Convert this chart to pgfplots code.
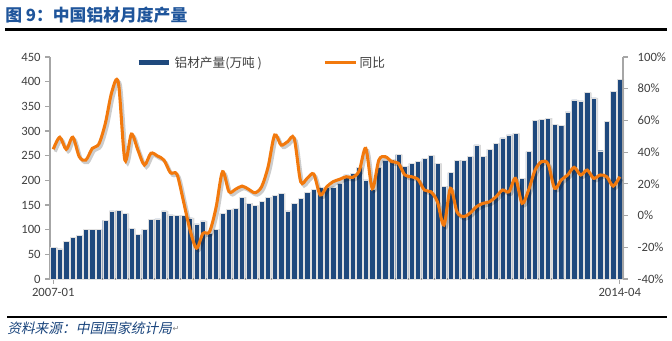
\documentclass[border=0pt]{standalone}
\usepackage{pgfplots}
\usepackage{pgfplotstable}
\pgfplotsset{compat=1.18}
\usepackage{fontspec}
\setmainfont{Carlito}
\newfontfamily\cjk{Noto Sans CJK SC}
\newfontfamily\cjkit{Noto Sans CJK SC}[FakeSlant=0.2]
\newfontfamily\dejavu{DejaVu Sans}
\definecolor{barblue}{RGB}{31,73,125}
\definecolor{lineorange}{RGB}{242,121,13}
\definecolor{titleblue}{RGB}{31,85,155}
\definecolor{axisgray}{RGB}{166,166,166}
\definecolor{labelgray}{RGB}{64,64,64}
\pgfplotstableread{
idx prod yoy
0 64 41.8
1 61 49.4
2 77 41.8
3 84.5 49.4
4 88.5 37.1
5 100 35
6 101 42.4
7 100 45.1
8 119 58.2
9 138 78.1
10 139 83.8
11 133 35
12 102 51.4
13 90 41.3
14 101 31.9
15 121 39.3
16 122 37.6
17 138 35
18 130 27
19 129 26
20 129 9
21 124 -9
22 111.5 -20.6
23 117.6 -11.2
24 92.6 -10.2
25 101 5
26 133 27.7
27 140.5 15
28 142.6 16.6
29 166 18.6
30 154 16.6
31 149 14.4
32 156.7 18.2
33 166 30.8
34 170 50.8
35 173.7 44.5
36 138 46.6
37 153 48.7
38 163.5 21.4
39 175.7 23.5
40 181.8 26.2
41 185.8 13
42 185.8 18.2
43 187 21.4
44 194 22.9
45 211 24.5
46 214 24.1
47 226 28.3
48 200.7 42.4
49 181.8 17
50 226 35
51 241 37.1
52 242.6 34
53 252 33
54 229 25.6
55 234.5 24.5
56 237.8 22.9
57 244 16.1
58 250.7 15
59 234.5 8.7
60 188.5 -6
61 215.5 17.2
62 241 2.4
63 241 -0.7
64 248 1.5
65 272 5.6
66 249 7.7
67 263 8.7
68 275 11.9
69 286 16.1
70 292 15
71 295 23.5
72 204 7.7
73 258 16.1
74 322 28.7
75 323 34
76 326 32.5
77 313 17.2
78 312 22.4
79 339 25.6
80 363 30.4
81 361 25.6
82 378 28.7
83 367 23.5
84 260 25.6
85 319 24.5
86 381 18.6
87 405 24.5
}\data
\begin{document}
\begin{tikzpicture}
\begin{scope}[x=0.75pt,y=-0.75pt]
\useasboundingbox (0,0) rectangle (672,340);
\node[anchor=west, font=\cjk\bfseries\fontsize{12.6}{13}\selectfont, text=titleblue, inner sep=0] at (5,15) {图 9：中国铝材月度产量};
\draw[line width=1.6pt] (5,29.5) -- (667,29.5);
\draw[line width=1.6pt] (7,317) -- (667,317);
\node[anchor=west, font=\cjkit\fontsize{10.3}{11}\selectfont, text=titleblue!80!black, inner sep=0] (src) at (7,328.5) {资料来源：中国国家统计局};
\node[anchor=west, font=\dejavu\fontsize{6}{6}\selectfont, text=gray, inner sep=0] at (src.east) {↵};
\end{scope}
\begin{axis}[
  at={(37.5pt,-209.25pt)}, anchor=south west, scale only axis,
  width=429.75pt, height=166.5pt,
  xmin=-0.5, xmax=87.5, ymin=0, ymax=450,
  ytick={0,50,...,450},
  xtick={0,87}, xticklabels={2007-01,2014-04},
  axis y line*=left, axis x line*=bottom,
  axis line style={axisgray, line width=0.8pt, -},
  tick style={axisgray, line width=0.8pt},
  tick align=outside, major tick length=3.5pt,
  tick label style={font=\fontsize{9.5}{10}\selectfont, text=labelgray},
  /pgf/number format/assume math mode=true,
  clip=false,
]
\addplot[ybar, bar width=0.8, fill=black, opacity=0.15, draw=none, xshift=1.3pt, forget plot] table[x=idx,y=prod]{\data};
\addplot[ybar, bar width=0.8, fill=barblue, draw=white!88!black, line width=0.35pt] table[x=idx,y=prod]{\data};
\end{axis}
\begin{axis}[
  at={(37.5pt,-209.25pt)}, anchor=south west, scale only axis,
  width=429.75pt, height=166.5pt,
  xmin=-0.5, xmax=87.5, ymin=-40, ymax=100,
  ytick={-40,-20,...,100},
  yticklabel={\pgfmathprintnumber{\tick}\%},
  axis y line*=right, axis x line=none,
  axis line style={axisgray, line width=0.8pt, -},
  tick style={axisgray, line width=0.8pt},
  tick align=outside, major tick length=3.5pt,
  y tick label style={font=\fontsize{9.5}{10}\selectfont, text=labelgray, xshift=4pt},
  /pgf/number format/assume math mode=true,
  legend image code/.code={\draw[#1] (0pt,0pt) -- (23pt,0pt);},
  legend style={at={(0.143,0.974)}, anchor=west, draw=none, fill=none,
    legend columns=2, font=\cjk\fontsize{9.5}{10}\selectfont, text=labelgray,
    /tikz/every even column/.append style={column sep=44pt}},
  clip=false,
]
\addlegendimage{barblue, line width=3.8pt}
\addlegendentry{铝材产量(万吨 )}
\addplot[smooth, black, opacity=0.2, line width=2.4pt, xshift=1.5pt, yshift=-1.8pt, forget plot] table[x=idx,y=yoy]{\data};
\addplot[smooth, lineorange, line width=2.3pt] table[x=idx,y=yoy]{\data};
\addlegendentry{同比}
\end{axis}
\end{tikzpicture}
\end{document}
